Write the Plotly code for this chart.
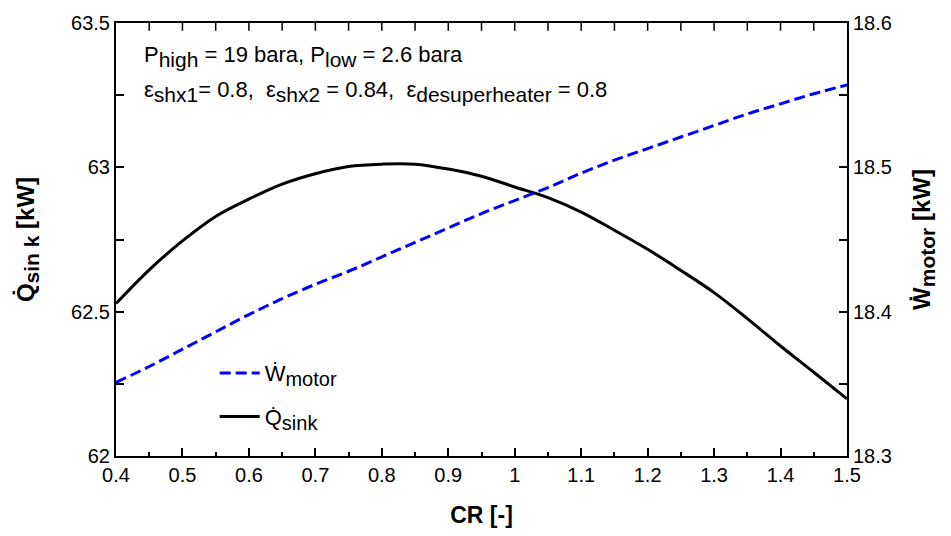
import plotly.graph_objects as go

cr = [0.40, 0.45, 0.50, 0.55, 0.60, 0.65, 0.70, 0.75, 0.80, 0.85, 0.90, 0.95,
      1.00, 1.05, 1.10, 1.15, 1.20, 1.25, 1.30, 1.35, 1.40, 1.45, 1.50]
q_sink = [62.528, 62.645, 62.745, 62.830, 62.890, 62.942, 62.978, 63.003, 63.011,
          63.011, 62.994, 62.969, 62.932, 62.895, 62.845, 62.782, 62.716, 62.643,
          62.566, 62.476, 62.381, 62.290, 62.198]
w_motor = [18.351, 18.362, 18.374, 18.386, 18.398, 18.409, 18.419, 18.428, 18.438,
           18.448, 18.458, 18.468, 18.477, 18.486, 18.496, 18.505, 18.513, 18.521,
           18.529, 18.537, 18.544, 18.551, 18.557]
top_tick_positions = [0.45, 0.50, 0.55, 0.60, 0.65, 0.70, 0.75, 0.80, 0.85, 0.90, 0.95,
                      1.00, 1.05, 1.10, 1.15, 1.20, 1.25, 1.30, 1.35, 1.40, 1.45]

FONT = "Liberation Sans, Arial, sans-serif"


def sub(t, size):
    return f"<sub><span style='font-size:{size}px'>{t}</span></sub>"


fig = go.Figure()
fig.add_trace(go.Scatter(
    x=cr, y=w_motor, mode="lines", yaxis="y2", legendgroup="w",
    name="Ẇ" + sub("motor", 20),
    line=dict(color="#0000ff", width=3, dash="11px,5px", shape="spline"),
))
fig.add_trace(go.Scatter(
    x=cr, y=q_sink, mode="lines", yaxis="y", legendgroup="q",
    name="Q̇" + sub("sink", 20),
    line=dict(color="black", width=3, shape="spline"),
))

axis_common = dict(showgrid=False, zeroline=False, showline=True, linecolor="black",
                   linewidth=2, ticks="inside", ticklen=8, tickwidth=1.5, tickcolor="black",
                   tickfont=dict(family=FONT, size=20, color="black"))

fig.update_layout(
    width=951, height=536,
    margin=dict(l=116, r=104, t=21, b=79),
    paper_bgcolor="white", plot_bgcolor="white",
    font=dict(family=FONT, color="black"),
    xaxis=dict(range=[0.4, 1.5], dtick=0.1, tick0=0.4, mirror=True,
               minor=dict(dtick=0.05, ticks="inside", ticklen=4, tickcolor="black"),
               title=dict(text="<b>CR [-]</b>", font=dict(family=FONT, size=23), standoff=22),
               **axis_common),
    yaxis=dict(range=[62, 63.5], dtick=0.5, tick0=62,
               minor=dict(dtick=0.25, ticks="inside", ticklen=8, tickcolor="black"),
               title=dict(text="<b>Q̇" + sub("sin k", 21) + " [kW]</b>",
                          font=dict(family=FONT, size=24), standoff=30),
               **axis_common),
    yaxis2=dict(range=[18.3, 18.6], dtick=0.1, tick0=18.3, overlaying="y", side="right",
                minor=dict(dtick=0.05, ticks="inside", ticklen=8, tickcolor="black"),
                title=dict(text="<b>Ẇ" + sub("motor", 21) + " [kW]</b>",
                           font=dict(family=FONT, size=24), standoff=22),
                **axis_common),
    legend=dict(x=0.135, y=0.24, xanchor="left", yanchor="top", bgcolor="rgba(0,0,0,0)",
                font=dict(family=FONT, size=22, color="black"), tracegroupgap=12,
                itemwidth=40),
    showlegend=True,
)

# inside tick marks along the top frame
for tx in top_tick_positions:
    fig.add_shape(type="line", xref="x", yref="paper", x0=tx, x1=tx, y0=1.0, y1=0.982,
                  line=dict(color="black", width=1.5), layer="above")

fig.add_annotation(xref="paper", yref="paper", x=0.035, y=0.922, xanchor="left", yanchor="middle",
                   showarrow=False, align="left",
                   text="P" + sub("high", 21) + " = 19 bara, P" + sub("low", 21) + " = 2.6 bara",
                   font=dict(family=FONT, size=22, color="black"))
fig.add_annotation(xref="paper", yref="paper", x=0.035, y=0.842, xanchor="left", yanchor="middle",
                   showarrow=False, align="left",
                   text="ε" + sub("shx1", 21) + "= 0.8,  ε" + sub("shx2", 21) + " = 0.84,  ε"
                        + sub("desuperheater", 21) + " = 0.8",
                   font=dict(family=FONT, size=22, color="black"))

fig.write_html("out.html")
